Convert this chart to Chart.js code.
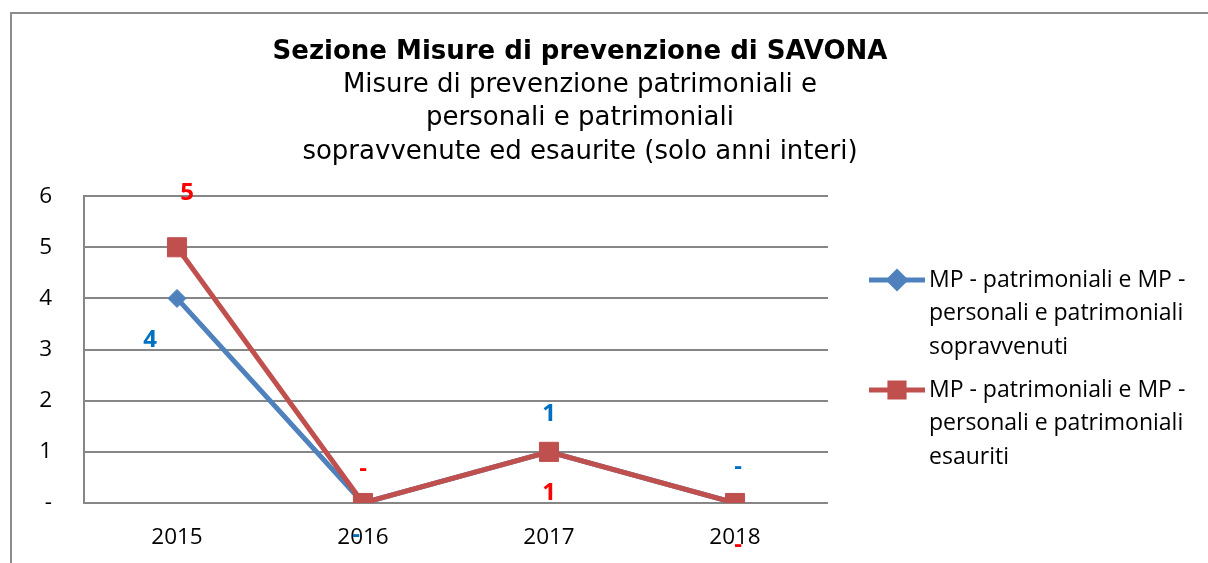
<!DOCTYPE html>
<html>
<head>
<meta charset="utf-8">
<title>Sezione Misure di prevenzione di SAVONA</title>
<script src="https://cdn.jsdelivr.net/npm/chart.js@4.4.1/dist/chart.umd.min.js"></script>
<style>
  html, body { margin: 0; padding: 0; background: #fff; overflow: hidden; }
  #wrap { position: relative; width: 1208px; height: 563px; }
  #frame { position: absolute; left: 10px; top: 12px; width: 1300px; height: 700px; border: 2px solid #8c8c8c; }
  #chart { position: absolute; left: 0; top: 0; }
</style>
</head>
<body>
<div id="wrap">
  <div id="frame"></div>
  <canvas id="chart" width="1208" height="563"></canvas>
</div>
<script>
// ---------- data ----------
const years = ["2015", "2016", "2017", "2018"];
const sopravvenuti = [4, 0, 1, 0];
const esauriti = [5, 0, 1, 0];
const yTicks = [0, 1, 2, 3, 4, 5, 6];

const titleText = "Sezione Misure di prevenzione di SAVONA";
const subtitleLines = [
  "Misure di prevenzione patrimoniali e",
  "personali e patrimoniali",
  "sopravvenute ed esaurite (solo anni interi)"
];
const legendLabels = [
  ["MP - patrimoniali e MP -", "personali e patrimoniali", "sopravvenuti"],
  ["MP - patrimoniali e MP -", "personali e patrimoniali", "esauriti"]
];

// where each value label sits relative to its point (dx, dy in px)
const blueLabelShift = [[-27, 42], [-7, 32], [0, -38], [3, -36]];
const redLabelShift = [[10, -54], [0, -34], [0, 41], [3, 42]];

const BLUE = "#4f81bd", RED = "#c0504d";
const BLUE_TXT = "#0070c0", RED_TXT = "#ff0000";
const GRID = "#868686";
const FONT = "'Open Sans', sans-serif";

const fmt = v => (v === 0 ? "-" : String(v));

// ---------- value labels ----------
const valueLabels = {
  id: "valueLabels",
  afterDraw(chart) {
    const ctx = chart.ctx;
    ctx.save();
    ctx.font = "bold 24px " + FONT;
    ctx.textAlign = "center";
    ctx.textBaseline = "middle";
    chart.data.datasets.forEach((ds, i) => {
      const meta = chart.getDatasetMeta(i);
      const shifts = ds.labelShift;
      ctx.fillStyle = ds.labelColor;
      meta.data.forEach((pt, j) => {
        ctx.fillText(fmt(ds.data[j]), pt.x + shifts[j][0], pt.y + shifts[j][1]);
      });
    });
    ctx.restore();
  }
};

// ---------- side legend (multi-line entries) ----------
const sideLegend = {
  id: "sideLegend",
  afterDraw(chart) {
    const ctx = chart.ctx;
    const x0 = chart.chartArea.right + 41;
    const tops = [280, 390];
    const lineGap = 33.5;
    ctx.save();
    chart.data.datasets.forEach((ds, i) => {
      const y = tops[i];
      ctx.strokeStyle = ds.borderColor;
      ctx.lineWidth = 5;
      ctx.beginPath();
      ctx.moveTo(x0, y);
      ctx.lineTo(x0 + 56, y);
      ctx.stroke();
      ctx.fillStyle = ds.pointBackgroundColor;
      ctx.strokeStyle = ds.pointBorderColor;
      Chart.helpers.drawPoint(ctx, {
        pointStyle: ds.pointStyle,
        radius: ds.pointStyle === "rect" ? 10 : 8,
        borderWidth: 1,
        rotation: 0
      }, x0 + 28, y);
      ctx.fillStyle = "#000";
      ctx.font = "23px " + FONT;
      ctx.textAlign = "left";
      ctx.textBaseline = "middle";
      legendLabels[i].forEach((t, k) => ctx.fillText(t, x0 + 60, y + k * lineGap));
    });
    ctx.restore();
  }
};

new Chart(document.getElementById("chart"), {
  type: "line",
  data: {
    labels: years,
    datasets: [
      {
        label: legendLabels[0].join(" "),
        data: sopravvenuti,
        borderColor: BLUE,
        backgroundColor: BLUE,
        pointBackgroundColor: BLUE,
        pointBorderColor: BLUE,
        pointStyle: "rectRot",
        pointRadius: 9,
        pointBorderWidth: 1,
        borderWidth: 5,
        tension: 0,
        order: 1,
        labelColor: BLUE_TXT,
        labelShift: blueLabelShift
      },
      {
        label: legendLabels[1].join(" "),
        data: esauriti,
        borderColor: RED,
        backgroundColor: RED,
        pointBackgroundColor: RED,
        pointBorderColor: RED,
        pointStyle: "rect",
        pointRadius: 13.5,
        pointBorderWidth: 1,
        borderWidth: 5,
        tension: 0,
        order: 0,
        labelColor: RED_TXT,
        labelShift: redLabelShift
      }
    ]
  },
  options: {
    responsive: false,
    animation: false,
    layout: { padding: { left: 10, right: 58, top: 0, bottom: 0 } },
    plugins: {
      legend: { display: false },
      tooltip: { enabled: false },
      title: {
        display: true,
        text: titleText,
        color: "#000",
        font: { family: "'DejaVu Sans', sans-serif", size: 26, weight: "bold", lineHeight: 1.2 },
        padding: { top: 36.4, bottom: 0.6 }
      },
      subtitle: {
        display: true,
        text: subtitleLines,
        color: "#000",
        font: { family: "'DejaVu Sans', sans-serif", size: 26, weight: "normal", lineHeight: 1.29 },
        padding: { top: 0, bottom: 27.3 }
      }
    },
    scales: {
      x: {
        offset: true,
        grid: { display: false, drawTicks: false },
        border: { display: false },
        ticks: { color: "#000", font: { family: FONT, size: 22.5 }, padding: 21 },
        afterFit: s => { s.height = 60; }
      },
      y: {
        min: yTicks[0],
        max: yTicks[yTicks.length - 1],
        afterBuildTicks: s => { s.ticks = yTicks.map(v => ({ value: v })); },
        afterFit: s => { s.width = 74; },
        grid: { color: GRID, lineWidth: 2, drawTicks: false },
        border: { display: true, color: GRID, width: 2 },
        ticks: { color: "#000", font: { family: FONT, size: 22.5 }, padding: 32, callback: v => fmt(v) }
      },
      // empty right-hand axis only keeps room for the legend
      side: {
        position: "right",
        display: true,
        grid: { display: false, drawTicks: false },
        border: { display: false },
        ticks: { display: false },
        afterFit: s => { s.width = 322; }
      }
    }
  },
  plugins: [valueLabels, sideLegend]
});
</script>
</body>
</html>
